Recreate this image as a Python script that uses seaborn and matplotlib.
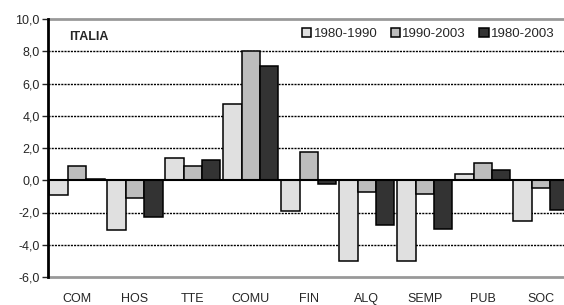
import pandas as pd
import matplotlib
matplotlib.use("Agg")
import matplotlib.pyplot as plt
from matplotlib.ticker import FuncFormatter
import seaborn as sns

# data
sectors = ["COM", "HOS", "TTE", "COMU", "FIN", "ALQ", "SEMP", "PUB", "SOC"]
periods = ["1980-1990", "1990-2003", "1980-2003"]
v_1980_1990 = [-0.9, -3.1, 1.4, 4.7, -1.9, -5.0, -5.0, 0.4, -2.5]
v_1990_2003 = [0.9, -1.1, 0.9, 8.0, 1.75, -0.75, -0.85, 1.1, -0.5]
v_1980_2003 = [0.1, -2.3, 1.25, 7.1, -0.25, -2.75, -3.0, 0.65, -1.85]
yticks = [-6, -4, -2, 0, 2, 4, 6, 8, 10]

df = pd.DataFrame({
    "sector": sectors * 3,
    "period": [p for p in periods for _ in sectors],
    "value": v_1980_1990 + v_1990_2003 + v_1980_2003,
})

sns.set_style("white")
plt.rcParams["font.family"] = ["Liberation Sans", "DejaVu Sans"]

fig = plt.figure(figsize=(5.64, 3.05), dpi=100)
ax = fig.add_axes([48 / 564, 1 - 277 / 305, 1 - 48 / 564, (277 - 19) / 305])

palette = {"1980-1990": "#e0e0e0", "1990-2003": "#bdbdbd", "1980-2003": "#333333"}
sns.barplot(data=df, x="sector", y="value", hue="period", order=sectors,
            hue_order=periods, palette=palette, width=0.95, gap=0,
            edgecolor="black", linewidth=1.1, saturation=1, ax=ax, zorder=3)

# dashed gridlines, solid zero line, grey top/bottom frame
for t in yticks:
    if t == 0:
        ax.axhline(t, color="black", lw=1.5, zorder=4)
    elif t in (10, -6):
        ax.axhline(t, color="#999999", lw=2, zorder=1, clip_on=False)
    else:
        ax.axhline(t, color="black", lw=1, ls=(0, (1.5, 0.8)), zorder=1)

ax.set_ylim(-6, 10)
ax.set_xlim(-0.5, 8.4)
ax.set_yticks(yticks)
ax.yaxis.set_major_formatter(FuncFormatter(lambda v, p: f"{v:.1f}".replace(".", ",")))
ax.tick_params(axis="y", left=True, length=4, width=1, pad=2, labelsize=9)
ax.tick_params(axis="x", bottom=False, pad=8, labelsize=9)
for s in ["top", "right", "bottom"]:
    ax.spines[s].set_visible(False)
ax.spines["left"].set_linewidth(2)
ax.spines["left"].set_color("black")
ax.spines["left"].set_zorder(5)
ax.set_xlabel("")
ax.set_ylabel("")

ax.text(0.04, 0.93, "ITALIA", transform=ax.transAxes, fontsize=9,
        fontweight="bold", va="center")
ax.legend(ncol=3, loc="upper right", bbox_to_anchor=(1.0, 1.0), frameon=False,
          fontsize=9.5, handlelength=0.7, handleheight=0.7, handletextpad=0.2,
          columnspacing=1.0, borderaxespad=0.3)

fig.savefig("out.png", dpi=100)
